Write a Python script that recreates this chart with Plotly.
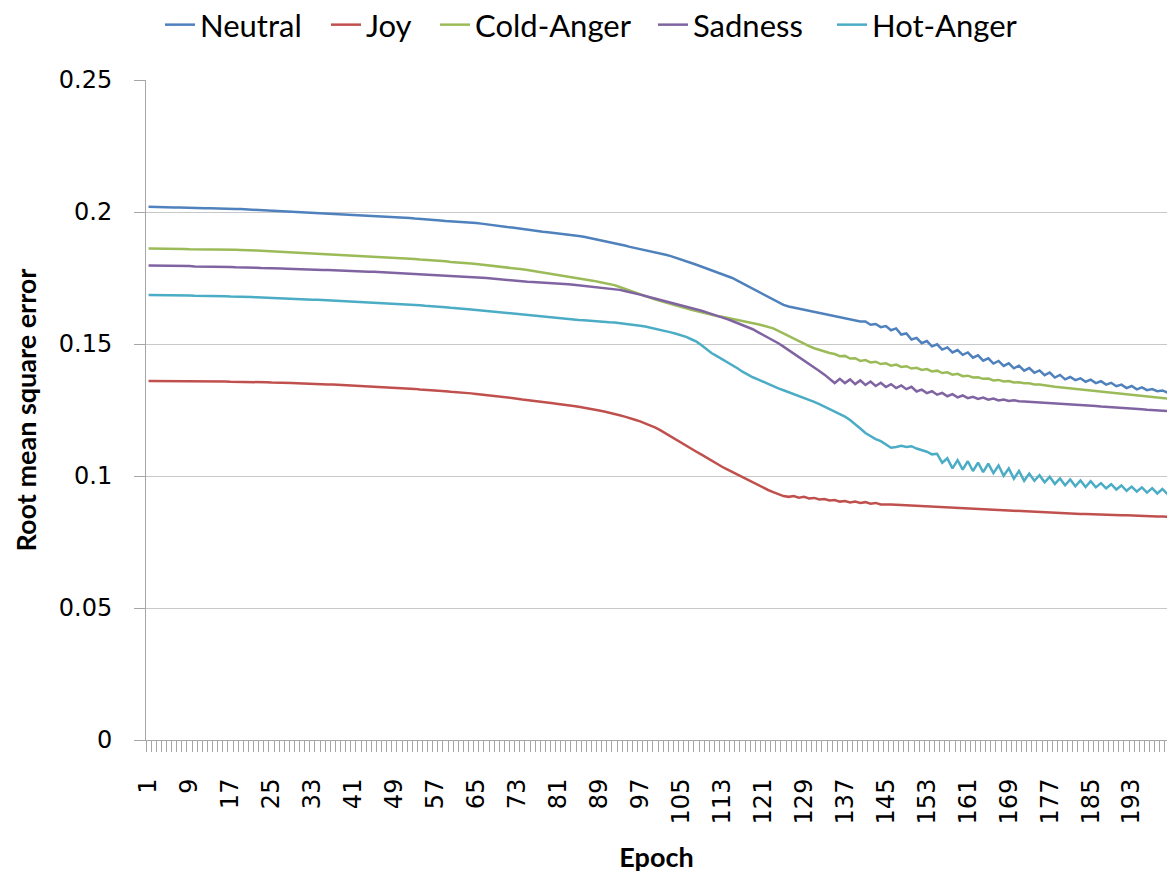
import plotly.graph_objects as go

epochs = list(range(1, 201))
tick_labels = [str(v) for v in range(1, 194, 8)]
y_tick_values = [0, 0.05, 0.1, 0.15, 0.2, 0.25]
y_tick_labels = ["0", "0.05", "0.1", "0.15", "0.2", "0.25"]

neutral = [
    0.2020, 0.2019, 0.2019, 0.2018, 0.2018, 0.2017, 0.2017, 0.2016, 0.2016, 0.2015,
    0.2015, 0.2014, 0.2014, 0.2013, 0.2013, 0.2012, 0.2012, 0.2011, 0.2011, 0.2010,
    0.2009, 0.2008, 0.2007, 0.2006, 0.2005, 0.2004, 0.2003, 0.2002, 0.2002, 0.2001,
    0.2000, 0.1999, 0.1998, 0.1997, 0.1996, 0.1995, 0.1994, 0.1993, 0.1992, 0.1991,
    0.1990, 0.1989, 0.1988, 0.1987, 0.1986, 0.1985, 0.1984, 0.1983, 0.1981, 0.1980,
    0.1978, 0.1977, 0.1975, 0.1974, 0.1972, 0.1971, 0.1969, 0.1968, 0.1966, 0.1965,
    0.1963, 0.1962, 0.1960, 0.1959, 0.1958, 0.1956, 0.1953, 0.1951, 0.1948, 0.1946,
    0.1943, 0.1941, 0.1938, 0.1936, 0.1933, 0.1930, 0.1928, 0.1925, 0.1923, 0.1921,
    0.1918, 0.1916, 0.1914, 0.1911, 0.1909, 0.1906, 0.1902, 0.1899, 0.1895, 0.1891,
    0.1887, 0.1882, 0.1877, 0.1873, 0.1868, 0.1864, 0.1860, 0.1856, 0.1852, 0.1848,
    0.1843, 0.1838, 0.1833, 0.1827, 0.1820, 0.1814, 0.1807, 0.1800, 0.1793, 0.1786,
    0.1779, 0.1772, 0.1765, 0.1758, 0.1750, 0.1740, 0.1730, 0.1719, 0.1709, 0.1698,
    0.1688, 0.1677, 0.1667, 0.1657, 0.1648, 0.1642, 0.1638, 0.1634, 0.1630, 0.1626,
    0.1622, 0.1618, 0.1614, 0.1610, 0.1606, 0.1602, 0.1598, 0.1594, 0.1590, 0.1585,
    0.1585, 0.1573, 0.1576, 0.1564, 0.1568, 0.1552, 0.1559, 0.1536, 0.1540, 0.1517,
    0.1523, 0.1503, 0.1511, 0.1491, 0.1499, 0.1479, 0.1487, 0.1468, 0.1477, 0.1459,
    0.1468, 0.1448, 0.1457, 0.1437, 0.1446, 0.1426, 0.1436, 0.1417, 0.1427, 0.1408,
    0.1418, 0.1399, 0.1409, 0.1391, 0.1400, 0.1382, 0.1392, 0.1373, 0.1383, 0.1366,
    0.1375, 0.1363, 0.1370, 0.1357, 0.1365, 0.1352, 0.1359, 0.1346, 0.1353, 0.1340,
    0.1346, 0.1333, 0.1341, 0.1328, 0.1336, 0.1325, 0.1329, 0.1321, 0.1324, 0.1316,
]

joy = [
    0.1360, 0.1360, 0.1360, 0.1360, 0.1360, 0.1359, 0.1359, 0.1359, 0.1359, 0.1359,
    0.1359, 0.1358, 0.1358, 0.1358, 0.1358, 0.1358, 0.1357, 0.1357, 0.1357, 0.1357,
    0.1356, 0.1356, 0.1355, 0.1355, 0.1354, 0.1354, 0.1353, 0.1352, 0.1352, 0.1351,
    0.1350, 0.1350, 0.1349, 0.1349, 0.1348, 0.1347, 0.1347, 0.1346, 0.1346, 0.1345,
    0.1344, 0.1343, 0.1342, 0.1341, 0.1340, 0.1339, 0.1338, 0.1337, 0.1335, 0.1334,
    0.1333, 0.1331, 0.1330, 0.1328, 0.1327, 0.1325, 0.1324, 0.1322, 0.1321, 0.1319,
    0.1318, 0.1316, 0.1314, 0.1313, 0.1311, 0.1309, 0.1307, 0.1304, 0.1302, 0.1300,
    0.1298, 0.1295, 0.1293, 0.1290, 0.1288, 0.1286, 0.1283, 0.1281, 0.1278, 0.1276,
    0.1273, 0.1271, 0.1268, 0.1265, 0.1262, 0.1259, 0.1256, 0.1252, 0.1248, 0.1244,
    0.1240, 0.1235, 0.1230, 0.1225, 0.1220, 0.1213, 0.1207, 0.1200, 0.1192, 0.1183,
    0.1173, 0.1161, 0.1149, 0.1138, 0.1126, 0.1115, 0.1103, 0.1092, 0.1081, 0.1069,
    0.1058, 0.1046, 0.1035, 0.1025, 0.1015, 0.1005, 0.0995, 0.0985, 0.0975, 0.0966,
    0.0956, 0.0947, 0.0939, 0.0931, 0.0924, 0.0921, 0.0924, 0.0918, 0.0921, 0.0915,
    0.0917, 0.0911, 0.0913, 0.0907, 0.0909, 0.0903, 0.0905, 0.0900, 0.0903, 0.0898,
    0.0901, 0.0895, 0.0898, 0.0892, 0.0893, 0.0892, 0.0891, 0.0890, 0.0889, 0.0888,
    0.0887, 0.0886, 0.0885, 0.0884, 0.0883, 0.0882, 0.0881, 0.0880, 0.0879, 0.0877,
    0.0876, 0.0875, 0.0874, 0.0873, 0.0872, 0.0871, 0.0870, 0.0869, 0.0868, 0.0867,
    0.0866, 0.0865, 0.0864, 0.0863, 0.0862, 0.0861, 0.0860, 0.0860, 0.0859, 0.0858,
    0.0858, 0.0857, 0.0856, 0.0856, 0.0855, 0.0854, 0.0854, 0.0853, 0.0852, 0.0852,
    0.0851, 0.0851, 0.0850, 0.0850, 0.0849, 0.0848, 0.0848, 0.0847, 0.0847, 0.0846,
]

cold_anger = [
    0.1862, 0.1862, 0.1861, 0.1861, 0.1861, 0.1860, 0.1860, 0.1860, 0.1859, 0.1859,
    0.1859, 0.1859, 0.1858, 0.1858, 0.1858, 0.1857, 0.1857, 0.1857, 0.1856, 0.1856,
    0.1855, 0.1854, 0.1853, 0.1852, 0.1851, 0.1850, 0.1849, 0.1848, 0.1847, 0.1846,
    0.1845, 0.1844, 0.1843, 0.1842, 0.1841, 0.1840, 0.1840, 0.1839, 0.1838, 0.1837,
    0.1836, 0.1835, 0.1834, 0.1833, 0.1832, 0.1831, 0.1830, 0.1829, 0.1827, 0.1826,
    0.1825, 0.1823, 0.1822, 0.1820, 0.1819, 0.1817, 0.1816, 0.1814, 0.1813, 0.1811,
    0.1810, 0.1808, 0.1806, 0.1805, 0.1803, 0.1801, 0.1799, 0.1797, 0.1794, 0.1792,
    0.1790, 0.1788, 0.1785, 0.1783, 0.1780, 0.1777, 0.1774, 0.1771, 0.1768, 0.1765,
    0.1762, 0.1759, 0.1756, 0.1752, 0.1749, 0.1746, 0.1742, 0.1739, 0.1735, 0.1731,
    0.1727, 0.1723, 0.1716, 0.1709, 0.1701, 0.1694, 0.1686, 0.1679, 0.1674, 0.1668,
    0.1663, 0.1657, 0.1652, 0.1646, 0.1641, 0.1636, 0.1630, 0.1625, 0.1620, 0.1615,
    0.1610, 0.1606, 0.1603, 0.1599, 0.1596, 0.1592, 0.1589, 0.1585, 0.1580, 0.1575,
    0.1570, 0.1565, 0.1559, 0.1550, 0.1540, 0.1531, 0.1521, 0.1511, 0.1502, 0.1492,
    0.1484, 0.1477, 0.1471, 0.1466, 0.1462, 0.1454, 0.1455, 0.1445, 0.1446, 0.1436,
    0.1439, 0.1430, 0.1433, 0.1424, 0.1427, 0.1418, 0.1422, 0.1413, 0.1416, 0.1407,
    0.1410, 0.1402, 0.1405, 0.1396, 0.1399, 0.1390, 0.1393, 0.1384, 0.1387, 0.1378,
    0.1380, 0.1373, 0.1374, 0.1368, 0.1369, 0.1362, 0.1364, 0.1358, 0.1360, 0.1354,
    0.1355, 0.1351, 0.1351, 0.1347, 0.1347, 0.1343, 0.1341, 0.1338, 0.1336, 0.1334,
    0.1332, 0.1330, 0.1328, 0.1326, 0.1324, 0.1322, 0.1320, 0.1318, 0.1316, 0.1313,
    0.1311, 0.1309, 0.1307, 0.1305, 0.1303, 0.1301, 0.1299, 0.1297, 0.1295, 0.1293,
]

sadness = [
    0.1797, 0.1797, 0.1797, 0.1796, 0.1796, 0.1796, 0.1795, 0.1795, 0.1795, 0.1794,
    0.1794, 0.1794, 0.1793, 0.1793, 0.1793, 0.1792, 0.1792, 0.1791, 0.1791, 0.1790,
    0.1790, 0.1789, 0.1788, 0.1788, 0.1787, 0.1786, 0.1786, 0.1785, 0.1784, 0.1784,
    0.1783, 0.1782, 0.1782, 0.1781, 0.1780, 0.1780, 0.1779, 0.1778, 0.1778, 0.1777,
    0.1776, 0.1776, 0.1775, 0.1774, 0.1774, 0.1773, 0.1772, 0.1771, 0.1771, 0.1770,
    0.1769, 0.1768, 0.1767, 0.1766, 0.1765, 0.1764, 0.1763, 0.1762, 0.1760, 0.1759,
    0.1758, 0.1757, 0.1756, 0.1754, 0.1753, 0.1751, 0.1750, 0.1748, 0.1746, 0.1744,
    0.1743, 0.1741, 0.1740, 0.1738, 0.1736, 0.1735, 0.1734, 0.1732, 0.1731, 0.1730,
    0.1729, 0.1727, 0.1726, 0.1724, 0.1722, 0.1721, 0.1719, 0.1717, 0.1715, 0.1713,
    0.1711, 0.1709, 0.1705, 0.1701, 0.1697, 0.1692, 0.1687, 0.1682, 0.1677, 0.1672,
    0.1667, 0.1662, 0.1658, 0.1653, 0.1648, 0.1642, 0.1637, 0.1631, 0.1626, 0.1620,
    0.1614, 0.1608, 0.1601, 0.1594, 0.1587, 0.1580, 0.1573, 0.1566, 0.1556, 0.1545,
    0.1535, 0.1524, 0.1514, 0.1503, 0.1490, 0.1477, 0.1465, 0.1452, 0.1440, 0.1427,
    0.1413, 0.1398, 0.1384, 0.1369, 0.1352, 0.1368, 0.1352, 0.1366, 0.1348, 0.1362,
    0.1345, 0.1358, 0.1341, 0.1353, 0.1337, 0.1348, 0.1333, 0.1343, 0.1329, 0.1338,
    0.1320, 0.1327, 0.1314, 0.1321, 0.1308, 0.1315, 0.1302, 0.1310, 0.1298, 0.1305,
    0.1295, 0.1300, 0.1292, 0.1297, 0.1289, 0.1293, 0.1286, 0.1290, 0.1284, 0.1287,
    0.1283, 0.1282, 0.1281, 0.1279, 0.1278, 0.1277, 0.1276, 0.1275, 0.1273, 0.1272,
    0.1271, 0.1270, 0.1268, 0.1267, 0.1266, 0.1265, 0.1263, 0.1262, 0.1261, 0.1259,
    0.1258, 0.1256, 0.1255, 0.1254, 0.1253, 0.1251, 0.1250, 0.1249, 0.1247, 0.1246,
]

hot_anger = [
    0.1686, 0.1686, 0.1686, 0.1685, 0.1685, 0.1685, 0.1684, 0.1684, 0.1684, 0.1683,
    0.1683, 0.1683, 0.1682, 0.1682, 0.1681, 0.1681, 0.1680, 0.1680, 0.1679, 0.1679,
    0.1678, 0.1677, 0.1676, 0.1676, 0.1675, 0.1674, 0.1673, 0.1672, 0.1672, 0.1671,
    0.1670, 0.1669, 0.1668, 0.1668, 0.1667, 0.1666, 0.1665, 0.1665, 0.1664, 0.1663,
    0.1662, 0.1661, 0.1660, 0.1659, 0.1658, 0.1657, 0.1656, 0.1655, 0.1653, 0.1652,
    0.1651, 0.1650, 0.1648, 0.1647, 0.1645, 0.1644, 0.1642, 0.1640, 0.1639, 0.1637,
    0.1636, 0.1634, 0.1632, 0.1631, 0.1629, 0.1627, 0.1625, 0.1623, 0.1621, 0.1619,
    0.1618, 0.1616, 0.1614, 0.1612, 0.1610, 0.1608, 0.1606, 0.1604, 0.1602, 0.1600,
    0.1598, 0.1597, 0.1595, 0.1593, 0.1591, 0.1590, 0.1588, 0.1587, 0.1585, 0.1584,
    0.1582, 0.1581, 0.1579, 0.1576, 0.1574, 0.1571, 0.1569, 0.1566, 0.1562, 0.1557,
    0.1553, 0.1548, 0.1544, 0.1539, 0.1534, 0.1527, 0.1518, 0.1509, 0.1495, 0.1480,
    0.1465, 0.1454, 0.1443, 0.1431, 0.1420, 0.1408, 0.1395, 0.1383, 0.1374, 0.1366,
    0.1357, 0.1349, 0.1340, 0.1332, 0.1325, 0.1318, 0.1310, 0.1303, 0.1296, 0.1288,
    0.1281, 0.1272, 0.1263, 0.1254, 0.1244, 0.1235, 0.1225, 0.1212, 0.1197, 0.1180,
    0.1163, 0.1150, 0.1140, 0.1132, 0.1118, 0.1107, 0.1110, 0.1114, 0.1110, 0.1113,
    0.1104, 0.1098, 0.1092, 0.1082, 0.1084, 0.1050, 0.1067, 0.1029, 0.1060, 0.1024,
    0.1056, 0.1019, 0.1051, 0.1015, 0.1047, 0.1011, 0.1040, 0.1001, 0.1029, 0.0990,
    0.1019, 0.0982, 0.1009, 0.0982, 0.1003, 0.0976, 0.0997, 0.0970, 0.0991, 0.0965,
    0.0987, 0.0961, 0.0983, 0.0958, 0.0980, 0.0957, 0.0973, 0.0953, 0.0969, 0.0949,
    0.0964, 0.0944, 0.0960, 0.0941, 0.0957, 0.0937, 0.0954, 0.0934, 0.0951, 0.0931,
]

series_names = ["Neutral", "Joy", "Cold-Anger", "Sadness", "Hot-Anger"]
series_values = [neutral, joy, cold_anger, sadness, hot_anger]
series_colors = ["#4F81BD", "#C0504D", "#9BBB59", "#8064A2", "#4BACC6"]
legend_left_px = [160, 326, 435, 653, 832]

fig = go.Figure()
legend_ids = ["legend", "legend2", "legend3", "legend4", "legend5"]
for name, vals, color, lid in zip(series_names, series_values, series_colors, legend_ids):
    fig.add_trace(go.Scatter(
        x=epochs, y=vals, mode="lines", name=name,
        line=dict(color=color, width=2.5),
        legend=lid,
    ))

tick_font = dict(family="DejaVu Sans", size=24, color="#000000")
legend_font = dict(family="Lato", size=31, color="#000000")

legend_layouts = {}
for lid, left in zip(legend_ids, legend_left_px):
    legend_layouts[lid] = dict(
        orientation="h", xref="container", yref="container",
        x=left / 1167, xanchor="left", y=1 - 25 / 878, yanchor="middle",
        font=legend_font, bgcolor="rgba(0,0,0,0)", itemwidth=30,
    )

fig.update_layout(
    width=1167, height=878,
    margin=dict(l=146, r=0, t=80, b=138),
    paper_bgcolor="white", plot_bgcolor="white",
    showlegend=True,
    **legend_layouts,
    xaxis=dict(
        range=[0.5, 199.9],
        automargin=False,
        tickmode="array",
        tickvals=[int(t) for t in tick_labels],
        ticktext=tick_labels,
        tickangle=-90,
        tickfont=tick_font,
        ticks="",
        ticklabelstandoff=28,
        showgrid=False,
        zeroline=False,
        showline=True, linecolor="#a6a6a6", linewidth=1,
        minor=dict(tickmode="linear", tick0=0.5, dtick=1, ticks="outside",
                   ticklen=11, tickcolor="#a6a6a6", tickwidth=1, showgrid=False),
        title=dict(text="<b>Epoch</b>",
                   font=dict(family="Lato", size=27, color="#000000"),
                   standoff=24),
    ),
    yaxis=dict(
        range=[0, 0.25],
        automargin=False,
        tickmode="array",
        tickvals=y_tick_values,
        ticktext=y_tick_labels,
        tickfont=tick_font,
        ticks="outside", ticklen=11, tickcolor="#a6a6a6",
        ticklabelstandoff=17,
        showgrid=True, gridcolor="#c8c8c8", gridwidth=1,
        zeroline=False,
        showline=True, linecolor="#a6a6a6", linewidth=1,
        title=dict(text="<b>Root mean square error</b>",
                   font=dict(family="Lato", size=27, color="#000000"),
                   standoff=14),
    ),
)

fig.write_html("out.html")
